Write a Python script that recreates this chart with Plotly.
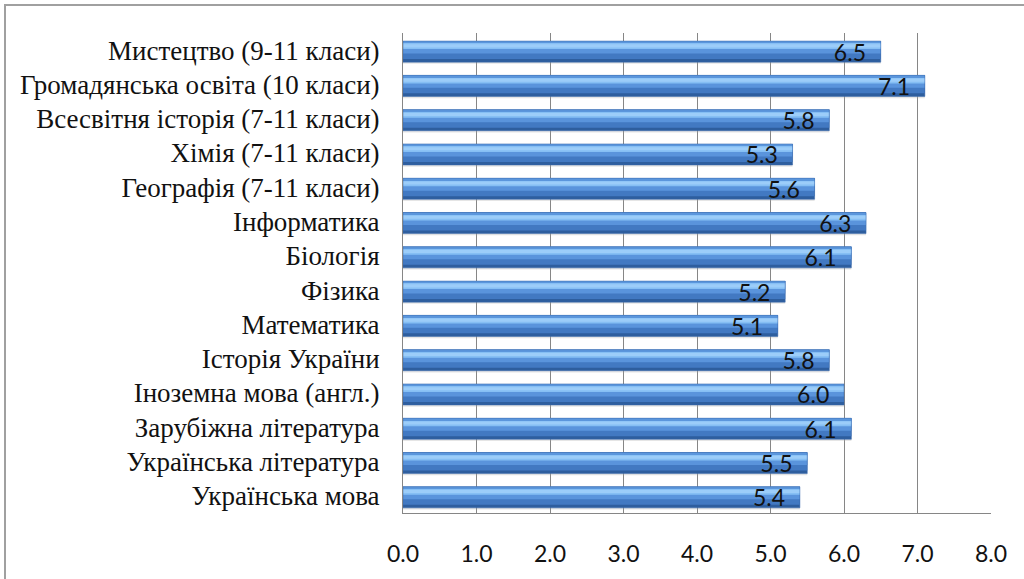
import plotly.graph_objects as go

categories = [
    "Українська мова",
    "Українська література",
    "Зарубіжна література",
    "Іноземна мова (англ.)",
    "Історія України",
    "Математика",
    "Фізика",
    "Біологія",
    "Інформатика",
    "Географія (7-11 класи)",
    "Хімія (7-11 класи)",
    "Всесвітня історія (7-11 класи)",
    "Громадянська освіта (10 класи)",
    "Мистецтво (9-11 класи)",
]
values = [5.4, 5.5, 6.1, 6.0, 5.8, 5.1, 5.2, 6.1, 6.3, 5.6, 5.3, 5.8, 7.1, 6.5]
labels = [f"{v:.1f}\u00a0\u00a0" for v in values]
tick_vals = [0, 1, 2, 3, 4, 5, 6, 7, 8]
tick_text = ["0.0", "1.0", "2.0", "3.0", "4.0", "5.0", "6.0", "7.0", "8.0"]

W, H = 1024, 579
ML, MR, MT, MB = 403, 33, 33, 66
PW, PH = W - ML - MR, H - MT - MB

fig = go.Figure()

# gradient layers for the 3D-ish bar look (offset/width are style)
layers = [
    (-0.40, 0.66, "rgba(170,170,170,0.30)"),  # soft shadow
    (-0.35, 0.615, "#2e5e9e"),
    (-0.26, 0.525, "#4279c2"),
    (-0.10, 0.365, "#5a94dc"),
    (0.03, 0.18, "#86bff4"),
    (0.08, 0.09, "#9ccdf9"),
    (0.21, 0.055, "#5b96dc"),
]
for off, wd, col in layers:
    fig.add_trace(go.Bar(
        y=categories, x=values, orientation="h",
        offset=off, width=wd,
        marker=dict(color=col, line=dict(width=0)),
        hoverinfo="skip", showlegend=False,
    ))

fig.add_trace(go.Bar(
    y=categories, x=values, orientation="h",
    offset=-0.35, width=0.615,
    marker=dict(color="rgba(0,0,0,0)", line=dict(color="#3a6aae", width=0.5)),
    text=labels, textposition="inside", insidetextanchor="end",
    constraintext="none",
    textfont=dict(family="Lato, sans-serif", size=23, color="#111111"),
    showlegend=False,
))

fig.update_layout(
    width=W, height=H,
    margin=dict(l=ML, r=MR, t=MT, b=MB, autoexpand=False),
    barmode="overlay",
    paper_bgcolor="white", plot_bgcolor="white",
    xaxis=dict(
        range=[0, 8], tickvals=tick_vals, ticktext=tick_text,
        showgrid=True, gridcolor="#868686", gridwidth=1,
        zeroline=False, showline=True, linecolor="#868686", linewidth=1,
        ticks="", ticklabelstandoff=20, automargin=False,
        tickfont=dict(family="Lato, sans-serif", size=23, color="#111111"),
    ),
    yaxis=dict(
        categoryorder="array", categoryarray=categories,
        showgrid=False, zeroline=False,
        showline=True, linecolor="#868686", linewidth=1,
        ticks="", ticklabelstandoff=17, automargin=False,
        tickfont=dict(family="Liberation Serif, Times New Roman, serif", size=27, color="#111111"),
    ),
    shapes=[dict(
        type="rect", xref="paper", yref="paper",
        x0=(5 - ML) / PW, x1=(1040 - ML) / PW,
        y0=(H - MB - 600) / PH, y1=(H - MB - 5) / PH,
        line=dict(color="#a0a0a0", width=2), fillcolor="rgba(0,0,0,0)",
        layer="below",
    )],
)

fig.write_html("out.html", config={"displayModeBar": False},
               post_script="document.body.style.margin='0';")
